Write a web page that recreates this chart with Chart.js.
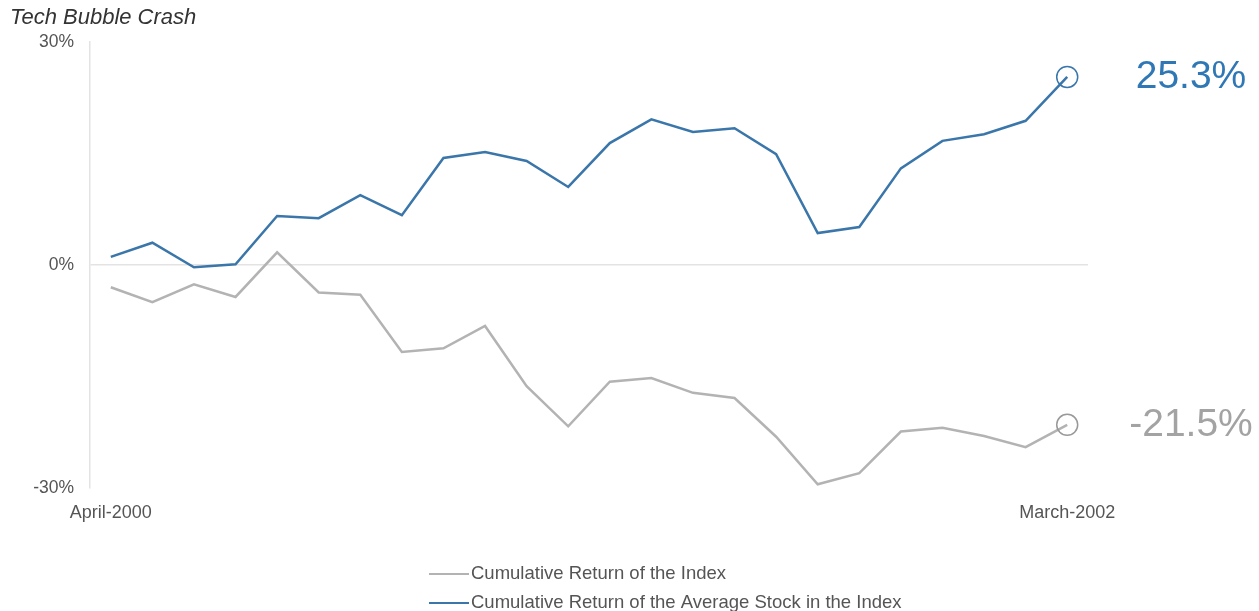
<!DOCTYPE html>
<html>
<head>
<meta charset="utf-8">
<script src="https://cdn.jsdelivr.net/npm/chart.js@4"></script>
<style>
  html, body { margin: 0; padding: 0; background: #fff; }
  #wrap { width: 1259px; height: 611px; }
</style>
</head>
<body>
<div id="wrap"><canvas id="grafico"></canvas></div>
<script>
// Meses, de abril 2000 a marzo 2002
var meses = [
    "April-2000", "May-2000", "June-2000", "July-2000", "August-2000", "September-2000",
    "October-2000", "November-2000", "December-2000", "January-2001", "February-2001", "March-2001",
    "April-2001", "May-2001", "June-2001", "July-2001", "August-2001", "September-2001",
    "October-2001", "November-2001", "December-2001", "January-2002", "February-2002", "March-2002"
];

// Rentabilidad acumulada del índice (%)
var retornoIndice = [
    -3.0, -5.0, -2.6, -4.3, 1.7, -3.7, -4.0, -11.7, -11.2, -8.2, -16.3, -21.7,
    -15.7, -15.2, -17.2, -17.9, -23.1, -29.5, -28.0, -22.4, -21.9, -23.0, -24.5, -21.5
];

// Rentabilidad acumulada de la acción media del índice (%)
var retornoAccionMedia = [
    1.1, 3.0, -0.3, 0.1, 6.6, 6.3, 9.4, 6.7, 14.4, 15.2, 14.0, 10.5,
    16.4, 19.6, 17.9, 18.4, 14.9, 4.3, 5.1, 13.0, 16.7, 17.6, 19.4, 25.3
];

// Marcas del eje Y
var marcasY = [-30, 0, 30];

var azul = "#3a76aa";
var gris = "#b3b3b3";

// Solo un círculo en el último punto
function radioFinal(n) {
    var r = [];
    for (var i = 0; i < n; i++) r.push(i === n - 1 ? 10.5 : 0);
    return r;
}

// Plugin: etiquetas grandes al final y leyenda en dos filas
var etiquetasFinales = {
    id: "etiquetasFinales",
    afterDraw: function(chart) {
        var ctx = chart.ctx;
        var area = chart.chartArea;
        var y = chart.scales.y;
        ctx.save();
        ctx.font = "39px 'Liberation Sans', Arial, sans-serif";
        ctx.textAlign = "center";
        ctx.textBaseline = "middle";
        var cx = area.right + 103;
        var ultAzul = retornoAccionMedia[retornoAccionMedia.length - 1];
        var ultGris = retornoIndice[retornoIndice.length - 1];
        ctx.fillStyle = "#2f78b5";
        ctx.fillText(ultAzul.toFixed(1) + "%", cx, y.getPixelForValue(ultAzul));
        ctx.fillStyle = "#a3a3a3";
        ctx.fillText(ultGris.toFixed(1) + "%", cx, y.getPixelForValue(ultGris));

        // Leyenda
        var items = [
            { texto: chart.data.datasets[1].label, color: gris },
            { texto: chart.data.datasets[0].label, color: azul }
        ];
        ctx.font = "18.5px 'Liberation Sans', Arial, sans-serif";
        ctx.textAlign = "left";
        for (var i = 0; i < items.length; i++) {
            var yy = 574 + i * 29;
            ctx.strokeStyle = items[i].color;
            ctx.lineWidth = 2;
            ctx.beginPath();
            ctx.moveTo(429, yy);
            ctx.lineTo(469, yy);
            ctx.stroke();
            ctx.fillStyle = "#555";
            ctx.fillText(items[i].texto, 471, yy);
        }
        ctx.restore();
    }
};

var config = {
    type: "line",
    data: {
        labels: meses,
        datasets: [
            {
                label: "Cumulative Return of the Average Stock in the Index",
                data: retornoAccionMedia,
                borderColor: azul,
                borderWidth: 2.5,
                pointRadius: radioFinal(retornoAccionMedia.length),
                pointBackgroundColor: "rgba(0,0,0,0)",
                pointBorderColor: azul,
                pointBorderWidth: 1.5,
                tension: 0
            },
            {
                label: "Cumulative Return of the Index",
                data: retornoIndice,
                borderColor: gris,
                borderWidth: 2.5,
                pointRadius: radioFinal(retornoIndice.length),
                pointBackgroundColor: "rgba(0,0,0,0)",
                pointBorderColor: "#999",
                pointBorderWidth: 1.5,
                tension: 0
            }
        ]
    },
    options: {
        responsive: true,
        maintainAspectRatio: false,
        animation: false,
        layout: { padding: { left: 10, right: 171, top: 0, bottom: 88 } },
        plugins: {
            legend: { display: false },
            tooltip: { enabled: false },
            title: {
                display: true,
                text: "Tech Bubble Crash",
                align: "start",
                color: "#333",
                font: { family: "'Liberation Sans', Arial, sans-serif", size: 22, style: "italic", weight: "normal" },
                padding: { top: 5, bottom: 10.6 }
            }
        },
        scales: {
            x: {
                offset: true,
                grid: { display: false, drawTicks: false },
                border: { display: false },
                ticks: {
                    autoSkip: false,
                    maxRotation: 0,
                    padding: 14,
                    color: "#555",
                    font: { family: "'Liberation Sans', Arial, sans-serif", size: 18 },
                    callback: function(valor, indice) {
                        return (indice === 0 || indice === meses.length - 1) ? meses[indice] : "";
                    }
                },
                afterFit: function(escala) { escala.height = 35; }
            },
            y: {
                min: -30,
                max: 30,
                afterBuildTicks: function(escala) {
                    escala.ticks = marcasY.map(function(v) { return { value: v }; });
                },
                grid: {
                    drawTicks: false,
                    color: function(c) { return c.tick && c.tick.value === 0 ? "#e3e3e3" : "rgba(0,0,0,0)"; },
                    lineWidth: 1.5
                },
                border: { display: true, color: "#e3e3e3", width: 1.5 },
                ticks: {
                    padding: 16,
                    color: "#555",
                    font: { family: "'Liberation Sans', Arial, sans-serif", size: 17.5 },
                    callback: function(v) { return v + "%"; }
                },
                afterFit: function(escala) { escala.width = 80; }
            }
        }
    },
    plugins: [etiquetasFinales]
};

new Chart(document.getElementById("grafico").getContext("2d"), config);
</script>
</body>
</html>
